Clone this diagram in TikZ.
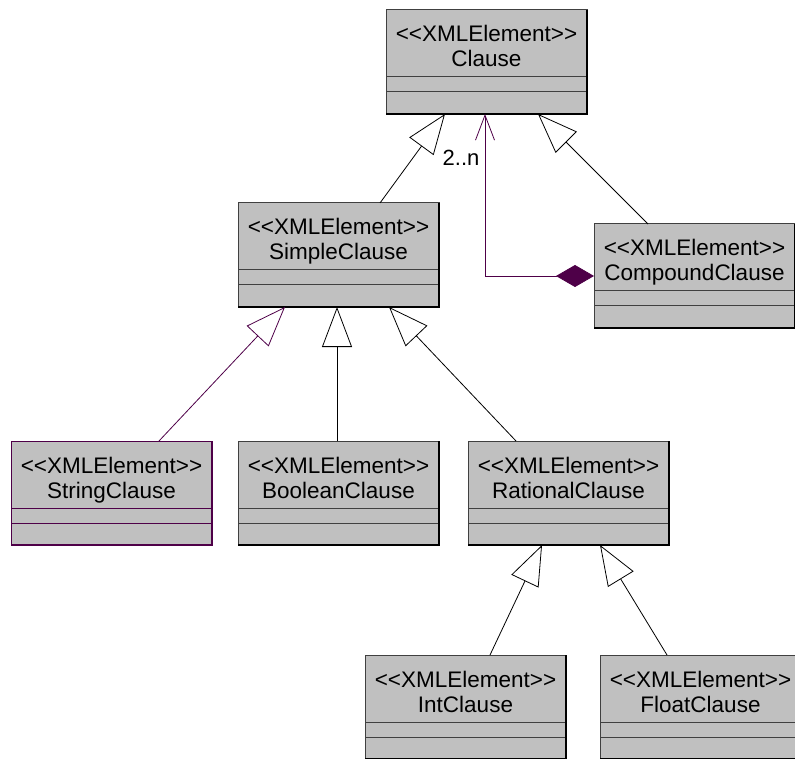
\documentclass[tikz,border=0pt]{standalone}
\usepackage{fontspec}
\setmainfont{Liberation Sans}
\usetikzlibrary{arrows.meta,calc}
\definecolor{umlfill}{RGB}{192,192,192}
\definecolor{umlline}{RGB}{64,64,64}
\definecolor{umlpurple}{RGB}{78,0,72}
\tikzset{
  classbox/.style={draw=umlline, line width=1pt, fill=umlfill, rectangle, anchor=north west,
    minimum width=201pt, minimum height=104pt, inner sep=0pt, outer sep=0pt},
  classtext/.style={font=\fontsize{22.5}{26}\selectfont, text=black, inner sep=0pt, anchor=base},
  gen/.style={draw=black, line width=0.8pt, -{Triangle[open, length=40pt, width=30pt, line width=0.8pt]}},
  genp/.style={draw=umlpurple, line width=0.8pt, -{Triangle[open, length=40pt, width=30pt, line width=0.8pt]}},
  comp/.style={draw=umlpurple, line width=0.8pt,
    {Diamond[length=38pt, width=22pt, fill=umlpurple]}-{Straight Barb[length=25pt, width=19pt, line width=0.8pt]}},
  multlabel/.style={font=\fontsize{22}{26}\selectfont, inner sep=0pt},
}
\newcommand{\stereo}{<\kern0pt<\kern0pt XMLElement\kern0pt>\kern0pt>}
% \umlclass{name}{x}{y}{classname}{border colour}
\newcommand{\umlclass}[5]{%
  \node[classbox, draw=#5] (#1) at (#2,#3) {};
  \draw[#5, line width=1pt] ($(#1.north west)+(0,67)$) -- ($(#1.north east)+(0,67)$);
  \draw[#5, line width=1pt] ($(#1.north west)+(0,82)$) -- ($(#1.north east)+(0,82)$);
  \draw[black, line width=2pt] (#1.south west) -- (#1.south east) -- (#1.north east);
  \node[classtext] (#1-st) at ($(#1.north)+(0,32)$) {\stereo};
  \node[classtext] (#1-nm) at ($(#1.north)+(0,57)$) {#4};
}
\begin{document}
\begin{tikzpicture}[x=1pt,y=-1pt]
\useasboundingbox (0,0) rectangle (795,759);
\clip (0,0) rectangle (795,759);
\umlclass{clause}{386}{10}{Clause}{umlline}
\umlclass{simple}{238}{203}{SimpleClause}{umlline}
\umlclass{compound}{594}{224}{CompoundClause}{umlline}
\umlclass{string}{11}{441}{StringClause}{umlpurple}
\draw[umlpurple, line width=2pt] (string.south west) -- (string.south east) -- (string.north east);
\umlclass{boolean}{238}{441}{BooleanClause}{umlline}
\umlclass{rational}{468}{441}{RationalClause}{umlline}
\umlclass{int}{365}{655}{IntClause}{umlline}
\umlclass{float}{600}{655}{FloatClause}{umlline}

% generalizations
\draw[gen] ($(simple.north west)+(142,0)$) -- ($(clause.south west)+(59,0)$);
\draw[gen] ($(compound.north west)+(54,0)$) -- ($(clause.south west)+(152,0)$);
\draw[genp] ($(string.north west)+(148,0)$) -- ($(simple.south west)+(47,0)$);
\draw[gen] ($(boolean.north west)+(99,0)$) -- ($(simple.south west)+(99,0)$);
\draw[gen] ($(rational.north west)+(48,0)$) -- ($(simple.south west)+(151,0)$);
\draw[gen] ($(int.north west)+(125,0)$) -- ($(rational.south west)+(74,0)$);
\draw[gen] ($(float.north west)+(67,0)$) -- ($(rational.south west)+(132,0)$);

% composition
\coordinate (clausebot) at ($(clause.south west)+(99,0)$);
\draw[comp] (compound.west) -| (clausebot);
\node[multlabel, anchor=base] (mult) at (461,166) {2..n};
\end{tikzpicture}
\end{document}
